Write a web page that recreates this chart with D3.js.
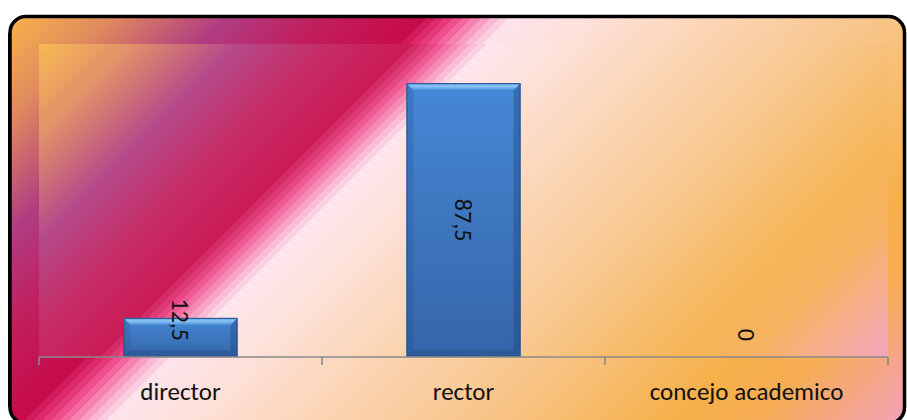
<!DOCTYPE html>
<html>
<head>
<meta charset="utf-8">
<script src="https://cdn.jsdelivr.net/npm/d3@7"></script>
<style>
  html, body { margin: 0; padding: 0; background: #ffffff; }
  svg { display: block; }
  text { font-family: Carlito, Lato, "Liberation Sans", sans-serif; fill: #111; }
</style>
</head>
<body>
<svg id="chart" width="907" height="420"></svg>
<script>
// Data
const categories = ["director", "rector", "concejo academico"];
const values = [12.5, 87.5, 0];
const valueLabels = ["12,5", "87,5", "0"];

// Background colour stops: orange → purple → crimson → banded pinks → pale → peach → orange → pink
const bgStops = [
  [0.000, "#f8b448"], [0.080, "#e08a5e"], [0.170, "#b03c82"],
  [0.245, "#c21e5c"], [0.322, "#c70a4a"],
  [0.322, "#d11a5a"], [0.329, "#d11a5a"], [0.329, "#dc2a6a"], [0.336, "#dc2a6a"],
  [0.336, "#e63a7a"], [0.343, "#e63a7a"], [0.343, "#ef4e8c"], [0.350, "#ef4e8c"],
  [0.350, "#f4669e"], [0.357, "#f4669e"], [0.357, "#f782b0"], [0.364, "#f782b0"],
  [0.364, "#f99ec2"], [0.371, "#f99ec2"], [0.371, "#fbb8d2"], [0.378, "#fbb8d2"],
  [0.378, "#fccde0"], [0.385, "#fccde0"], [0.385, "#fde4ec"],
  [0.450, "#fde0d8"], [0.550, "#fbd4b2"], [0.680, "#f8c486"],
  [0.820, "#f6b04a"], [0.880, "#f6ad54"], [1.000, "#f4a0bc"]
];

const W = 907, H = 420;
const frame = { x: 8, y: 15, w: 898, h: 410 };
const plot = { x: 39, y: 44, w: 849, h: 313 };

const svg = d3.select("#chart");
const defs = svg.append("defs");

// 45° gradient laid out across a box, so each box carries the full ramp
function diagGradient(id, box) {
  const d = (box.w + box.h) / 2;
  const g = defs.append("linearGradient")
    .attr("id", id)
    .attr("gradientUnits", "userSpaceOnUse")
    .attr("x1", box.x).attr("y1", box.y)
    .attr("x2", box.x + d).attr("y2", box.y + d);
  bgStops.forEach(([o, c]) => g.append("stop").attr("offset", o).attr("stop-color", c));
}
diagGradient("bgFrame", frame);
diagGradient("bgPlot", plot);

// Bar body gradient and top bevel highlight
const body = defs.append("linearGradient").attr("id", "barBody")
  .attr("x1", 0).attr("y1", 0).attr("x2", 0).attr("y2", 1);
body.append("stop").attr("offset", 0).attr("stop-color", "#4688d6");
body.append("stop").attr("offset", 1).attr("stop-color", "#3565a8");

const topBevel = defs.append("linearGradient").attr("id", "barTop")
  .attr("x1", 0).attr("y1", 0).attr("x2", 0).attr("y2", 1);
topBevel.append("stop").attr("offset", 0).attr("stop-color", "#5a9ee6");
topBevel.append("stop").attr("offset", 0.45).attr("stop-color", "#8cc6f6");
topBevel.append("stop").attr("offset", 1).attr("stop-color", "#4a8cd8");

// Outer frame
svg.append("rect")
  .attr("x", frame.x + 2).attr("y", frame.y + 1.5)
  .attr("width", frame.w - 3.5).attr("height", frame.h - 3)
  .attr("rx", 16).attr("ry", 16)
  .attr("fill", "url(#bgFrame)")
  .attr("stroke", "#000").attr("stroke-width", 3.5);
// heavier shading along the left edge of the frame
svg.append("path")
  .attr("d", `M${frame.x + 1},${frame.y + 18} L${frame.x + 1},${frame.y + frame.h - 18}`)
  .attr("stroke", "#000").attr("stroke-width", 2);

// Plot area
svg.append("rect")
  .attr("x", plot.x).attr("y", plot.y)
  .attr("width", plot.w).attr("height", plot.h)
  .attr("fill", "url(#bgPlot)");
svg.append("rect")
  .attr("x", plot.x).attr("y", plot.y)
  .attr("width", plot.w).attr("height", plot.h)
  .attr("fill", "#ffffff").attr("opacity", 0.07);

// Scales
const x = d3.scaleBand()
  .domain(categories)
  .range([plot.x, plot.x + plot.w])
  .paddingInner(0.597)
  .paddingOuter(0.2985);
const y = d3.scaleLinear().domain([0, 100]).range([plot.y + plot.h, plot.y]);

const data = categories.map((c, i) => ({ cat: c, value: values[i], label: valueLabels[i] }));

// Bars with bevelled edges
const b = 7;
const bars = svg.append("g").selectAll("g.bar")
  .data(data.filter(d => d.value > 0))
  .join("g").attr("class", "bar");

bars.each(function (d) {
  const g = d3.select(this);
  const x0 = x(d.cat), w = x.bandwidth();
  const y0 = y(d.value), h = y(0) - y(d.value);
  g.append("rect").attr("x", x0).attr("y", y0).attr("width", w).attr("height", h)
    .attr("fill", "url(#barBody)");
  // left side
  g.append("polygon")
    .attr("points", [[x0, y0], [x0 + b, y0 + b], [x0 + b, y0 + h - b], [x0, y0 + h]].join(" "))
    .attr("fill", "#1e4a86").attr("opacity", 0.22);
  // right side
  g.append("polygon")
    .attr("points", [[x0 + w, y0], [x0 + w - b, y0 + b], [x0 + w - b, y0 + h - b], [x0 + w, y0 + h]].join(" "))
    .attr("fill", "#1a3f74").attr("opacity", 0.35);
  // bottom
  g.append("polygon")
    .attr("points", [[x0, y0 + h], [x0 + b, y0 + h - b], [x0 + w - b, y0 + h - b], [x0 + w, y0 + h]].join(" "))
    .attr("fill", "#1a3f74").attr("opacity", 0.3);
  // top highlight
  g.append("polygon")
    .attr("points", [[x0, y0], [x0 + w, y0], [x0 + w - b, y0 + b], [x0 + b, y0 + b]].join(" "))
    .attr("fill", "url(#barTop)");
  g.append("rect").attr("x", x0 + 0.5).attr("y", y0 + 0.5).attr("width", w - 1).attr("height", h - 1)
    .attr("fill", "none").attr("stroke", "#2b5186").attr("stroke-width", 1);
});

// Category axis: line, boundary ticks, labels
const axisY = y(0);
const axisG = svg.append("g").attr("transform", `translate(0,${axisY})`);
axisG.append("line")
  .attr("x1", plot.x).attr("x2", plot.x + plot.w)
  .attr("y1", 0).attr("y2", 0)
  .attr("stroke", "#8a8a8a").attr("stroke-width", 1.6);
const step = x.step();
const boundaries = categories.map(c => x(c) + x.bandwidth() / 2 - step / 2)
  .concat([x(categories[categories.length - 1]) + x.bandwidth() / 2 + step / 2]);
axisG.selectAll("line.tick").data(boundaries).join("line")
  .attr("class", "tick")
  .attr("x1", d => d).attr("x2", d => d)
  .attr("y1", 0).attr("y2", 8)
  .attr("stroke", "#8a8a8a").attr("stroke-width", 1.6);
axisG.selectAll("text.cat").data(categories).join("text")
  .attr("class", "cat")
  .attr("x", d => x(d) + x.bandwidth() / 2)
  .attr("y", 43)
  .attr("text-anchor", "middle")
  .attr("font-size", 25)
  .text(d => d);

// Value labels, rotated; centred in the bar when they fit, otherwise set near the base
const lbl = svg.append("g").selectAll("text.val").data(data).join("text")
  .attr("class", "val")
  .attr("font-size", 24)
  .attr("dominant-baseline", "central")
  .text(d => d.label);
lbl.each(function (d) {
  const t = d3.select(this);
  const len = this.getComputedTextLength();
  const cx = x(d.cat) + x.bandwidth() / 2;
  const barH = y(0) - y(d.value);
  let cy;
  if (len + 20 < barH) {
    cy = (y(0) + y(d.value)) / 2;
  } else {
    cy = y(0) - 16 - len / 2;
  }
  t.attr("text-anchor", "middle")
    .attr("transform", `translate(${cx},${cy}) rotate(90)`);
});
</script>
</body>
</html>
